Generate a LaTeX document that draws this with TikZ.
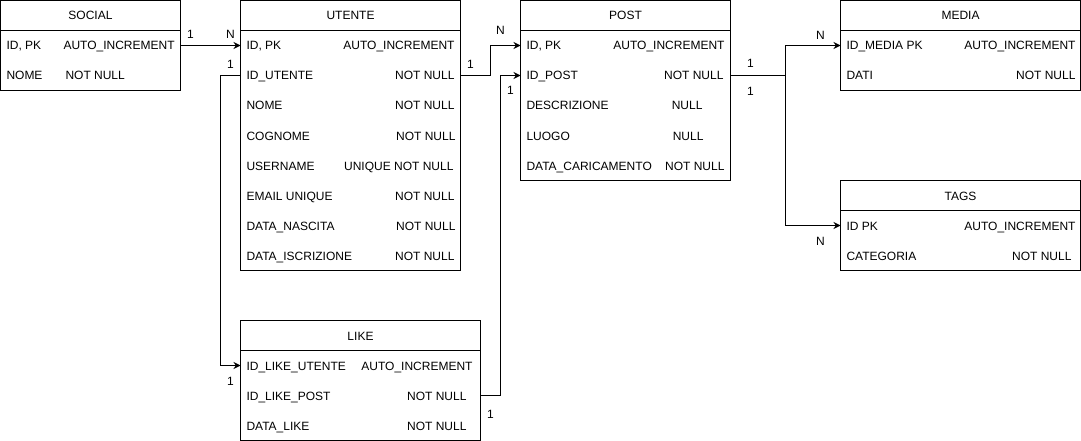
\documentclass[tikz,border=0pt]{standalone}
\usepackage{fontspec}
\setmainfont{Liberation Sans}
\usetikzlibrary{arrows.meta, positioning}

\begin{document}
\begin{tikzpicture} [x = 1pt, y = -1pt, line width = 1pt,
  every node/.style = {font = \fontsize{12}{14}\selectfont, inner sep = 0pt, outer sep = 0pt, text height = 10pt, text depth = 1pt},
  head/.style = {draw, minimum height = 30pt, anchor = north west},
  body/.style = {draw},
  fld/.style = {anchor = west},
  typ/.style = {anchor = east},
  link/.style = {-{Stealth[length = 7pt, width = 7pt]}}]
\useasboundingbox (-0.5, -0.5) rectangle (1080.5, 440.5);
\node[head, minimum width = 180pt] (social) at (0, 0){SOCIAL};
\node[body, minimum width = 180pt, minimum height = 60pt, below = 0pt of social] (social-body){};
\node[fld] (social-id) at (6, 45){ID, PK};
\node[fld] (social-idt) at (63, 45){AUTO\_INCREMENT};
\node[fld] (social-nome) at (6, 75){NOME};
\node[fld] (social-nomet) at (65, 75){NOT NULL};
\node[head, minimum width = 220pt] (utente) at (240, 0){UTENTE};
\node[body, minimum width = 220pt, minimum height = 240pt, below = 0pt of utente] (utente-body){};
\node[fld] (utente-id) at (246, 45){ID, PK};
\node[typ] (utente-idt) at (454, 45){AUTO\_INCREMENT};
\node[fld] (utente-idu) at (246, 75){ID\_UTENTE};
\node[typ] (utente-idut) at (454, 75){NOT NULL};
\node[fld] (utente-nome) at (246, 105){NOME};
\node[typ] (utente-nomet) at (454, 105){NOT NULL};
\node[fld] (utente-cogn) at (246, 135){COGNOME};
\node[typ] (utente-cognt) at (455, 135){NOT NULL};
\node[fld] (utente-user) at (246, 165){USERNAME};
\node[typ] (utente-usert) at (453, 165){UNIQUE NOT NULL};
\node[fld] (utente-mail) at (246, 195){EMAIL UNIQUE};
\node[typ] (utente-mailt) at (454, 195){NOT NULL};
\node[fld] (utente-nasc) at (246, 225){DATA\_NASCITA};
\node[typ] (utente-nasct) at (455, 225){NOT NULL};
\node[fld] (utente-iscr) at (246, 255){DATA\_ISCRIZIONE};
\node[typ] (utente-iscrt) at (454, 255){NOT NULL};
\node[head, minimum width = 210pt] (post) at (520, 0){POST};
\node[body, minimum width = 210pt, minimum height = 150pt, below = 0pt of post] (post-body){};
\node[fld] (post-id) at (526, 45){ID, PK};
\node[typ] (post-idt) at (724, 45){AUTO\_INCREMENT};
\node[fld] (post-idp) at (526, 75){ID\_POST};
\node[typ] (post-idpt) at (723, 75){NOT NULL};
\node[fld] (post-desc) at (526, 105){DESCRIZIONE};
\node[typ] (post-desct) at (702, 105){NULL};
\node[fld] (post-luogo) at (526, 135){LUOGO};
\node[typ] (post-luogot) at (703, 135){NULL};
\node[fld] (post-data) at (526, 165){DATA\_CARICAMENTO};
\node[typ] (post-datat) at (724, 165){NOT NULL};
\node[head, minimum width = 240pt] (media) at (840, 0){MEDIA};
\node[body, minimum width = 240pt, minimum height = 60pt, below = 0pt of media] (media-body){};
\node[fld] (media-id) at (846, 45){ID\_MEDIA PK};
\node[typ] (media-idt) at (1075, 45){AUTO\_INCREMENT};
\node[fld] (media-dati) at (846, 75){DATI};
\node[typ] (media-datit) at (1075, 75){NOT NULL};
\node[head, minimum width = 240pt] (tags) at (840, 180){TAGS};
\node[body, minimum width = 240pt, minimum height = 60pt, below = 0pt of tags] (tags-body){};
\node[fld] (tags-id) at (846, 225){ID PK};
\node[typ] (tags-idt) at (1075, 225){AUTO\_INCREMENT};
\node[fld] (tags-cat) at (846, 255){CATEGORIA};
\node[typ] (tags-catt) at (1071, 255){NOT NULL};
\node[head, minimum width = 240pt] (like) at (240, 320){LIKE};
\node[body, minimum width = 240pt, minimum height = 90pt, below = 0pt of like] (like-body){};
\node[fld] (like-idu) at (246, 365){ID\_LIKE\_UTENTE};
\node[typ] (like-idut) at (472, 365){AUTO\_INCREMENT};
\node[fld] (like-idp) at (246, 395){ID\_LIKE\_POST};
\node[typ] (like-idpt) at (466, 395){NOT NULL};
\node[fld] (like-data) at (246, 425){DATA\_LIKE};
\node[typ] (like-datat) at (466, 425){NOT NULL};
\draw[link] (social-body.east |- social-id) -- (utente-body.west |- utente-id);
\draw[link] (utente-body.west |- utente-idu) -- ++(-20, 0) |- (like-body.west |- like-idu);
\draw[link] (utente-body.east |- utente-idu) -- ++(30, 0) |- (post-body.west |- post-id);
\draw[link] (like-body.east |- like-idp) -- ++(20, 0) |- (post-body.west |- post-idp);
\draw[link] (post-body.east |- post-idp) -- ++(55, 0) |- (media-body.west |- media-id);
\draw[link] (post-body.east |- post-idp) -- ++(55, 0) |- (tags-body.west |- tags-id);
\node (su-1) at (190, 34){1};
\node (su-n) at (230, 34){N};
\node (ul-1a) at (230, 64){1};
\node (ul-1b) at (230, 380){1};
\node (up-1) at (470, 64){1};
\node (up-n) at (500, 30){N};
\node (lp-1a) at (510, 90){1};
\node (lp-1b) at (490, 413){1};
\node (pm-1) at (750, 63){1};
\node (pm-n) at (820, 35){N};
\node (pt-1) at (750, 91){1};
\node (pt-n) at (820, 240){N};
\end{tikzpicture}
\end{document}
